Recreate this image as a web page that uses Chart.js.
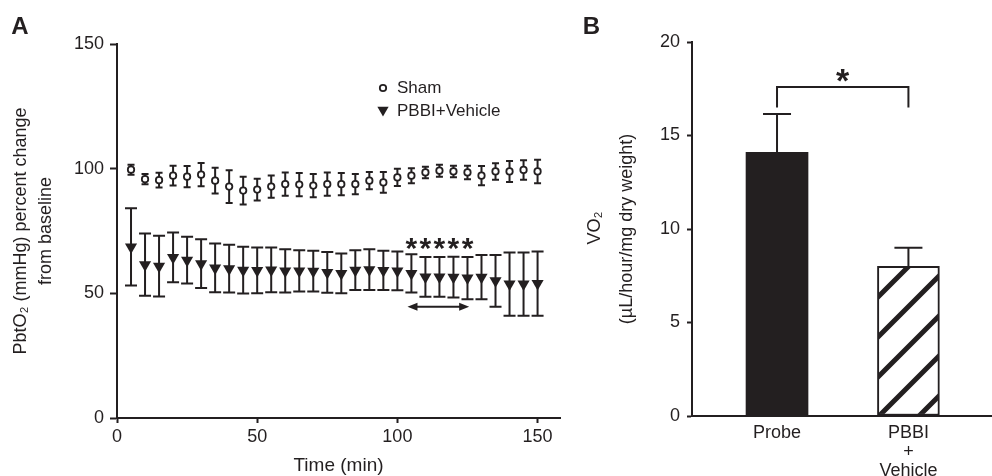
<!DOCTYPE html>
<html>
<head>
<meta charset="utf-8">
<script src="https://cdn.jsdelivr.net/npm/chart.js@4.4.0/dist/chart.umd.min.js"></script>
<style>
  body { margin: 0; background: #fff; }
  #wrap { position: relative; width: 992px; height: 476px; }
  canvas { position: absolute; top: 0; }
</style>
</head>
<body>
<div id="wrap">
  <canvas id="chartA" width="575" height="476" style="left:0"></canvas>
  <canvas id="chartB" width="417" height="476" style="left:575px"></canvas>
</div>
<script>
/*--------------------DATA--------------------*/
const timeMin = [5, 10, 15, 20, 25, 30, 35, 40, 45, 50, 55, 60, 65, 70, 75, 80, 85, 90, 95, 100, 105, 110, 115, 120, 125, 130, 135, 140, 145, 150];
const shamMean = [99.6, 95.8, 95.4, 97.2, 96.8, 97.6, 95.2, 92.8, 91.2, 91.6, 92.8, 93.8, 93.6, 93.2, 93.8, 93.8, 93.8, 95.2, 94.5, 96.5, 97.2, 98.5, 99.2, 98.9, 98.5, 97.2, 98.9, 98.9, 99.5, 98.9];
const shamErr = [2.0, 2.1, 3.0, 4.0, 4.3, 4.7, 5.2, 6.6, 5.6, 4.4, 4.5, 4.7, 4.7, 4.7, 4.7, 4.5, 4.1, 3.5, 4.2, 3.5, 3.0, 2.3, 2.4, 2.3, 2.7, 3.9, 3.3, 4.2, 3.9, 4.7];
const pbbiMean = [68.6, 61.5, 60.9, 64.4, 63.3, 61.9, 60.2, 59.9, 59.3, 59.2, 59.4, 59.0, 59.0, 58.9, 58.4, 58.0, 59.3, 59.5, 59.2, 59.0, 58.0, 56.6, 56.6, 56.5, 56.1, 56.5, 55.0, 53.7, 53.7, 53.9];
const pbbiErr = [15.5, 12.5, 12.2, 10.0, 9.4, 9.8, 9.8, 9.6, 9.4, 9.2, 9.0, 8.7, 8.3, 8.2, 8.2, 8.0, 8.0, 8.2, 7.9, 7.8, 7.7, 8.0, 8.0, 8.2, 8.5, 8.9, 10.4, 12.7, 12.7, 12.9];
const sigTimes = [105, 110, 115, 120, 125];
const arrowSpan = [103.6, 125.6];
const timeTicks = [0, 50, 100, 150];
const pctTicks = [0, 50, 100, 150];

const groups = ['Probe', ['PBBI', '+', 'Vehicle']];
const vo2Mean = [14.1, 8.0];
const vo2Err = [2.05, 1.0];
const vo2Ticks = [0, 5, 10, 15, 20];

const INK = '#231f20';
const FONT = "'Liberation Sans', Arial, sans-serif";
Chart.defaults.font.family = FONT;
Chart.defaults.color = INK;

/*--------------------HELPERS--------------------*/
function vText(ctx, text, x, y, size) {
    ctx.save();
    ctx.translate(x, y);
    ctx.rotate(-Math.PI / 2);
    ctx.font = size + 'px ' + FONT;
    ctx.textAlign = 'center';
    ctx.textBaseline = 'middle';
    ctx.fillText(text, 0, 0);
    ctx.restore();
}

function star(ctx, x, yc, size) {
    ctx.font = 'bold ' + size + 'px ' + FONT;
    ctx.textAlign = 'center';
    ctx.textBaseline = 'alphabetic';
    ctx.fillText('*', x, yc + size * 0.6);
}

function circleMark(ctx, x, y) {
    ctx.beginPath();
    ctx.arc(x, y, 3.2, 0, Math.PI * 2);
    ctx.fillStyle = '#fff';
    ctx.fill();
    ctx.lineWidth = 1.8;
    ctx.strokeStyle = INK;
    ctx.stroke();
}

function triMark(ctx, x, y, r) {
    ctx.beginPath();
    ctx.moveTo(x, y + r);
    ctx.lineTo(x - r * 0.866, y - r / 2);
    ctx.lineTo(x + r * 0.866, y - r / 2);
    ctx.closePath();
    ctx.fillStyle = INK;
    ctx.fill();
}

function hatch(target) {
    const s = 40;
    const c = document.createElement('canvas');
    c.width = s; c.height = s;
    const g = c.getContext('2d');
    g.fillStyle = '#fff';
    g.fillRect(0, 0, s, s);
    g.strokeStyle = INK;
    g.lineWidth = 5;
    g.beginPath();
    g.moveTo(-5, s + 5); g.lineTo(s + 5, -5);
    g.moveTo(-5, 5); g.lineTo(5, -5);
    g.moveTo(s - 5, s + 5); g.lineTo(s + 5, s - 5);
    g.stroke();
    return target.getContext('2d').createPattern(c, 'repeat');
}

/*--------------------PANEL A--------------------*/
const errorBarsA = {
    id: 'errorBarsA',
    beforeDatasetsDraw(chart) {
        const ctx = chart.ctx, y = chart.scales.y;
        chart.data.datasets.forEach((ds, i) => {
            const meta = chart.getDatasetMeta(i);
            ctx.save();
            ctx.strokeStyle = INK;
            ctx.lineWidth = 2;
            meta.data.forEach((pt, j) => {
                const v = ds.data[j].y, e = ds.errors[j], c = ds.capHalf;
                const top = y.getPixelForValue(v + e), bot = y.getPixelForValue(v - e);
                ctx.beginPath();
                ctx.moveTo(pt.x, top); ctx.lineTo(pt.x, bot);
                ctx.moveTo(pt.x - c, top); ctx.lineTo(pt.x + c, top);
                ctx.moveTo(pt.x - c, bot); ctx.lineTo(pt.x + c, bot);
                ctx.stroke();
            });
            ctx.restore();
        });
    }
};

const decorA = {
    id: 'decorA',
    afterDraw(chart) {
        const {ctx, chartArea: a, scales: {x, y}} = chart;
        ctx.save();
        ctx.fillStyle = INK;
        ctx.strokeStyle = INK;

        // significance stars
        sigTimes.forEach(t => star(ctx, x.getPixelForValue(t), y.getPixelForValue(71.5), 30));

        // double arrow
        const ay = y.getPixelForValue(44.6);
        const x1 = x.getPixelForValue(arrowSpan[0]), x2 = x.getPixelForValue(arrowSpan[1]);
        ctx.lineWidth = 2;
        ctx.beginPath();
        ctx.moveTo(x1 + 6, ay); ctx.lineTo(x2 - 6, ay);
        ctx.stroke();
        ctx.beginPath();
        ctx.moveTo(x1, ay); ctx.lineTo(x1 + 10, ay - 4); ctx.lineTo(x1 + 10, ay + 4); ctx.closePath();
        ctx.moveTo(x2, ay); ctx.lineTo(x2 - 10, ay - 4); ctx.lineTo(x2 - 10, ay + 4); ctx.closePath();
        ctx.fill();

        // legend
        const lx = a.left + 266;
        circleMark(ctx, lx, 88);
        triMark(ctx, lx, 110, 6.5);
        ctx.fillStyle = INK;
        ctx.font = '17px ' + FONT;
        ctx.textAlign = 'left';
        ctx.textBaseline = 'middle';
        ctx.fillText('Sham', lx + 14, 88);
        ctx.fillText('PBBI+Vehicle', lx + 14, 111);

        // axis titles
        vText(ctx, 'PbtO\u2082 (mmHg) percent change', 21, (a.top + a.bottom) / 2, 18);
        vText(ctx, 'from baseline', 46, (a.top + a.bottom) / 2, 18);
        ctx.font = '19px ' + FONT;
        ctx.textAlign = 'center';
        ctx.textBaseline = 'middle';
        ctx.fillText('Time (min)', (a.left + a.right) / 2, 466);

        // panel letter
        ctx.font = 'bold 24px ' + FONT;
        ctx.fillText('A', 20, 27);
        ctx.restore();
    }
};

new Chart(document.getElementById('chartA'), {
    type: 'scatter',
    data: {
        datasets: [
            {
                label: 'Sham',
                data: timeMin.map((t, i) => ({x: t, y: shamMean[i]})),
                errors: shamErr,
                capHalf: 3.5,
                pointStyle: 'circle',
                pointRadius: 3.2,
                pointBackgroundColor: '#fff',
                pointBorderColor: INK,
                pointBorderWidth: 1.8,
                showLine: false
            },
            {
                label: 'PBBI+Vehicle',
                data: timeMin.map((t, i) => ({x: t, y: pbbiMean[i]})),
                errors: pbbiErr,
                capHalf: 6,
                pointStyle: 'triangle',
                pointRotation: 180,
                pointRadius: 7,
                pointBackgroundColor: INK,
                pointBorderColor: INK,
                pointBorderWidth: 0,
                showLine: false
            }
        ]
    },
    options: {
        responsive: false,
        animation: false,
        events: [],
        layout: { padding: { left: 0, right: 15, top: 44, bottom: 0 } },
        plugins: { legend: { display: false }, tooltip: { enabled: false } },
        scales: {
            x: {
                type: 'linear',
                min: 0,
                max: 158,
                afterBuildTicks: s => { s.ticks = timeTicks.map(v => ({value: v})); },
                afterFit: s => { s.height = 58; },
                grid: { display: true, drawOnChartArea: false, tickLength: 5, tickWidth: 2, color: INK },
                border: { display: true, color: INK, width: 2 },
                ticks: { font: { size: 18 }, color: INK, padding: 3, maxRotation: 0 }
            },
            y: {
                min: 0,
                max: 150,
                afterBuildTicks: s => { s.ticks = pctTicks.map(v => ({value: v})); },
                afterFit: s => { s.width = 117; },
                grid: { display: true, drawOnChartArea: false, tickLength: 7, tickWidth: 2, color: INK },
                border: { display: true, color: INK, width: 2 },
                ticks: { font: { size: 18 }, color: INK, padding: 6 }
            }
        }
    },
    plugins: [errorBarsA, decorA]
});

/*--------------------PANEL B--------------------*/
const canvasB = document.getElementById('chartB');

const decorB = {
    id: 'decorB',
    afterDatasetsDraw(chart) {
        const {ctx, chartArea: a, scales: {x, y}} = chart;
        ctx.save();
        ctx.strokeStyle = INK;
        ctx.fillStyle = INK;
        ctx.lineWidth = 2;

        // error bars (upper only)
        vo2Mean.forEach((m, i) => {
            const px = x.getPixelForValue(i);
            const top = y.getPixelForValue(m + vo2Err[i]);
            ctx.beginPath();
            ctx.moveTo(px, y.getPixelForValue(m)); ctx.lineTo(px, top);
            ctx.moveTo(px - 14, top); ctx.lineTo(px + 14, top);
            ctx.stroke();
        });

        // significance bracket
        const bx1 = x.getPixelForValue(0), bx2 = x.getPixelForValue(1);
        const legY = y.getPixelForValue(16.5), barY = y.getPixelForValue(17.6);
        ctx.beginPath();
        ctx.moveTo(bx1, legY); ctx.lineTo(bx1, barY); ctx.lineTo(bx2, barY); ctx.lineTo(bx2, legY);
        ctx.stroke();
        star(ctx, x.getPixelForValue(0.5), y.getPixelForValue(18.4), 34);

        // axis titles
        vText(ctx, 'VO\u2082', 20, 228, 18);
        vText(ctx, '(\u00b5L/hour/mg dry weight)', 52, 229, 18);

        // panel letter
        ctx.font = 'bold 24px ' + FONT;
        ctx.textAlign = 'center';
        ctx.textBaseline = 'middle';
        ctx.fillText('B', 16.5, 27);
        ctx.restore();
    }
};

new Chart(canvasB, {
    type: 'bar',
    data: {
        datasets: [{
            data: vo2Mean.map((v, i) => ({x: i, y: v})),
            backgroundColor: [INK, hatch(canvasB)],
            borderColor: INK,
            borderWidth: [0, 2],
            borderSkipped: false,
            barThickness: 62
        }]
    },
    options: {
        responsive: false,
        animation: false,
        events: [],
        layout: { padding: { left: 0, right: 0, top: 42, bottom: 0 } },
        plugins: { legend: { display: false }, tooltip: { enabled: false } },
        scales: {
            x: {
                type: 'linear',
                offset: false,
                min: -0.647,
                max: 1.636,
                afterBuildTicks: s => { s.ticks = groups.map((g, i) => ({value: i})); },
                afterFit: s => { s.height = 60; },
                grid: { display: false, offset: false },
                border: { display: true, color: INK, width: 2 },
                ticks: {
                    font: { size: 18, lineHeight: 1.05 },
                    color: INK,
                    padding: 0,
                    maxRotation: 0,
                    callback: v => groups[v]
                }
            },
            y: {
                min: 0,
                max: 20,
                afterBuildTicks: s => { s.ticks = vo2Ticks.map(v => ({value: v})); },
                afterFit: s => { s.width = 117; },
                grid: { display: true, drawOnChartArea: false, tickLength: 5, tickWidth: 2, color: INK },
                border: { display: true, color: INK, width: 2 },
                ticks: { font: { size: 18 }, color: INK, padding: 7 }
            }
        }
    },
    plugins: [decorB]
});
</script>
</body>
</html>
